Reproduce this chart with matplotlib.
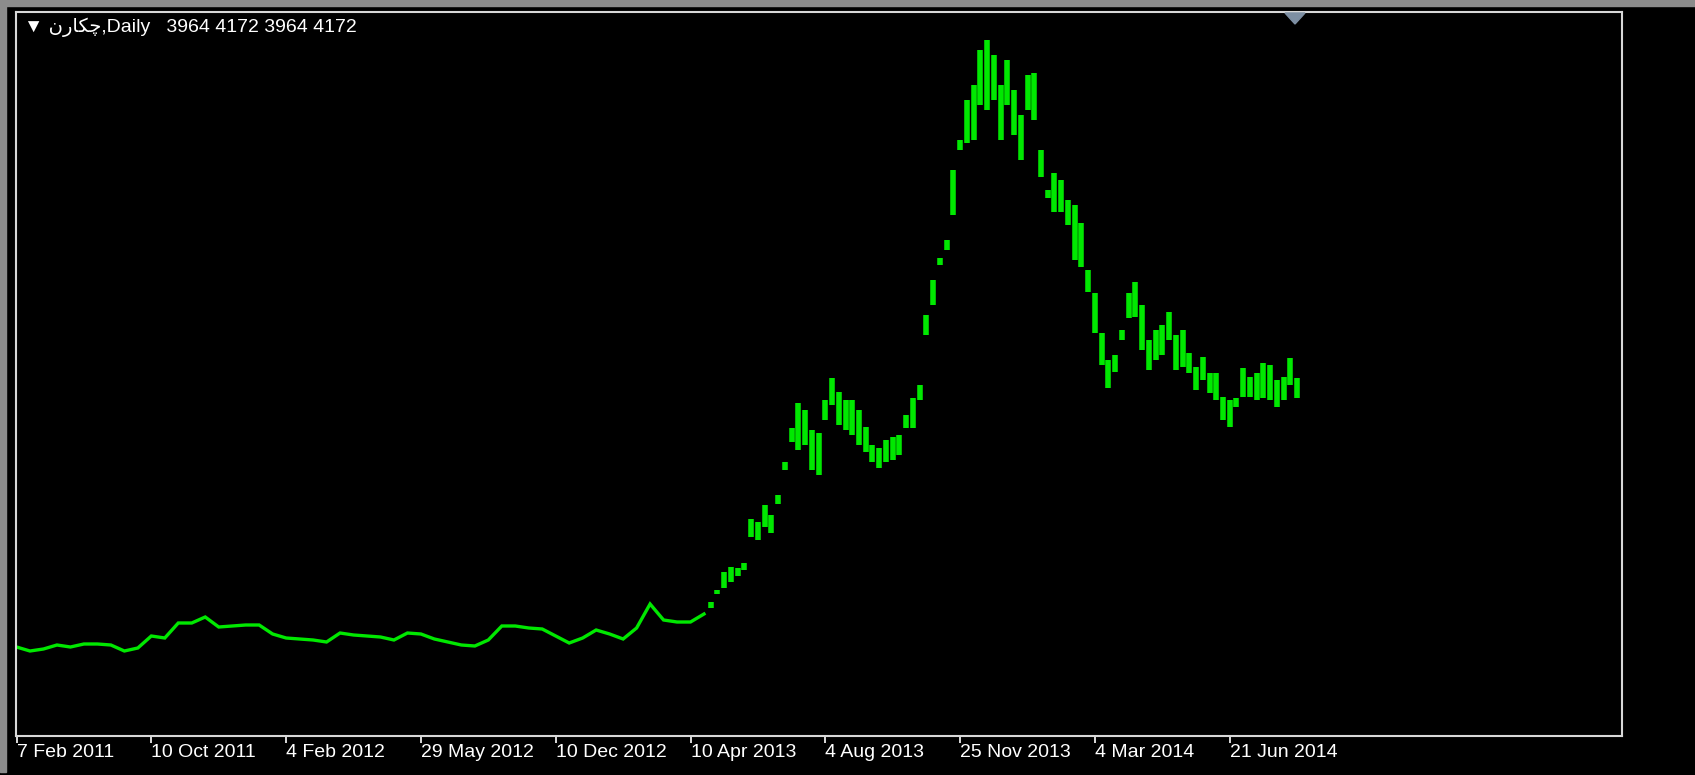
import numpy as np
import matplotlib
matplotlib.use("Agg")
import matplotlib.pyplot as plt
from matplotlib.patches import Rectangle, Polygon

# ---------------- data ----------------
# quiet period (closing prices, one every 4 bars)
flat_close = [1068, 1020, 1044, 1092, 1068, 1104, 1104, 1092, 1020, 1056,
              1200, 1176, 1356, 1356, 1428, 1308, 1320, 1332, 1332, 1224,
              1176, 1164, 1152, 1128, 1236, 1212, 1200, 1188, 1152, 1236,
              1224, 1164, 1128, 1092, 1080, 1152, 1320, 1320, 1296, 1284,
              1200, 1116, 1176, 1272, 1224, 1164, 1296, 1584, 1392, 1368,
              1368, 1464]

# volatile period (high / low per bar, one every 2 bars starting at bar 206)
highs = [1608, 1752, 1968, 2028, 2016, 2076, 2604, 2568, 2772, 2652,
         2892, 3288, 3696, 3996, 3912, 3672, 3636, 4032, 4296, 4128,
         4032, 4032, 3912, 3708, 3492, 3456, 3552, 3588, 3612, 3852,
         4056, 4212, 5052, 5472, 5736, 5952, 6792, 7152, 7632, 7812,
         8232, 8352, 8172, 7812, 8112, 7752, 7452, 7932, 7956, 7032,
         6552, 6756, 6672, 6432, 6372, 6156, 5592, 5316, 4836, 4512,
         4572, 4872, 5316, 5448, 5172, 4752, 4872, 4932, 5088, 4812,
         4872, 4596, 4428, 4548, 4356, 4356, 4068, 4032, 4056, 4416,
         4308, 4356, 4476, 4452, 4272, 4308, 4536, 4296]
lows = [1536, 1704, 1776, 1848, 1920, 1992, 2388, 2352, 2508, 2436,
        2784, 3192, 3528, 3432, 3492, 3192, 3132, 3792, 3972, 3732,
        3672, 3612, 3492, 3408, 3288, 3216, 3288, 3312, 3372, 3696,
        3696, 4032, 4812, 5172, 5652, 5832, 6252, 7032, 7116, 7152,
        7572, 7512, 7632, 7152, 7572, 7212, 6912, 7512, 7392, 6708,
        6456, 6288, 6288, 6132, 5712, 5628, 5328, 4836, 4452, 4176,
        4368, 4752, 5016, 5028, 4632, 4392, 4512, 4572, 4752, 4392,
        4428, 4356, 4152, 4272, 4116, 4032, 3792, 3708, 3948, 4068,
        4068, 4032, 4056, 4032, 3948, 4032, 4212, 4056]

tick_labels = ["7 Feb 2011", "10 Oct 2011", "4 Feb 2012", "29 May 2012",
               "10 Dec 2012", "10 Apr 2013", "4 Aug 2013", "25 Nov 2013",
               "4 Mar 2014", "21 Jun 2014"]
tick_bars = [0, 40, 80, 120, 160, 200, 240, 280, 320, 360]

symbol = "\uFEE5\uFEAD\uFE8E\uFB91\uFB7C"   # چکارن in visual (shaped) order
title = "\u25BC " + symbol + ",Daily   3964 4172 3964 4172"

# ---------------- drawing ----------------
W, H = 1695, 775
GREEN = "#00e800"
FONT = ["Liberation Sans", "DejaVu Sans"]

fig = plt.figure(figsize=(W / 100, H / 100), dpi=100, facecolor="black")
ax = fig.add_axes([16 / W, (H - 736) / H, (1622 - 16) / W, (736 - 12) / H])
ax.set_facecolor("black")

flat_x = np.arange(len(flat_close)) * 4
bar_x = 206 + 2 * np.arange(len(highs))

ax.plot(flat_x, flat_close, color=GREEN, lw=2.4, solid_joinstyle="miter")
ax.vlines(bar_x, lows, highs, color=GREEN, lw=4.0)

ax.set_xlim(-0.15, 476.4)
ax.set_ylim(0, 8688)
ax.set_yticks([])
ax.set_xticks(tick_bars)
ax.set_xticklabels(tick_labels, ha="left", family=FONT, fontsize=14, color="white")
ax.tick_params(axis="x", direction="out", length=5, width=1.2, color="white", pad=1)
for s in ax.spines.values():
    s.set_color("#d8d8d8")
    s.set_linewidth(1.5)

ax.text(0.005, 0.979, title, transform=ax.transAxes, ha="left", va="center",
        color="white", fontsize=14, family=FONT)

# window chrome
fig.add_artist(Rectangle((0, 1 - 6 / H), 1, 6 / H, transform=fig.transFigure,
                         color="#8c8c8c", zorder=5))
fig.add_artist(Rectangle((0, 3 / H), 6 / W, 1, transform=fig.transFigure,
                         color="#8c8c8c", zorder=5))
fig.add_artist(Polygon([(1285 / W, 1 - 13 / H), (1305 / W, 1 - 13 / H), (1295 / W, 1 - 24 / H)],
                       closed=True, transform=fig.transFigure, color="#7d8fa3", zorder=6))

fig.savefig("out.png", dpi=100, facecolor="black")
